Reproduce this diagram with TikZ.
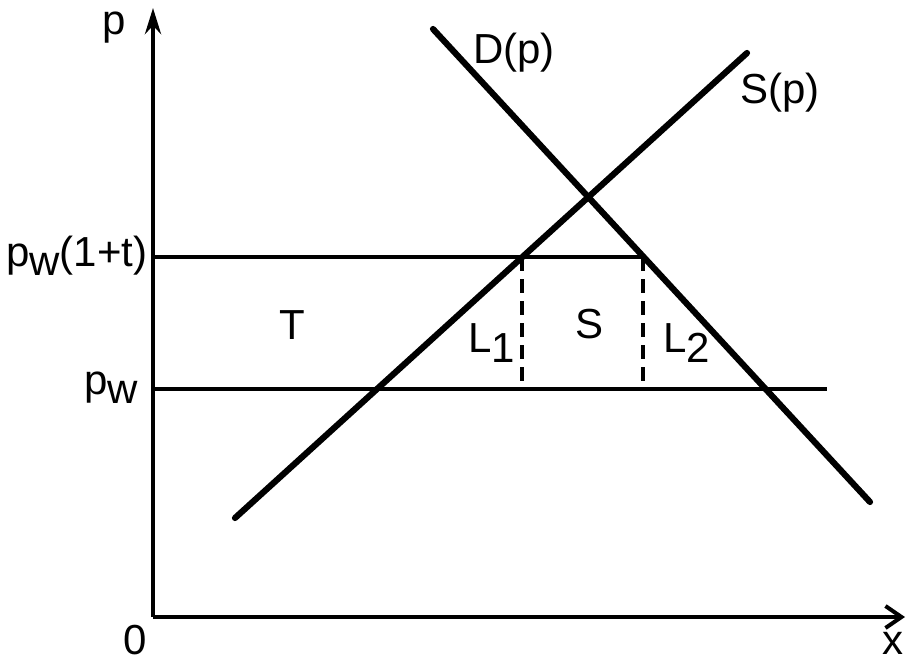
\documentclass[tikz,border=0pt]{standalone}
\usepackage{fontspec}
\setmainfont{Liberation Sans}
\usetikzlibrary{arrows.meta}
\begin{document}
\begin{tikzpicture}[x=1pt,y=-1pt,
  axis/.style={line width=4.6pt},
  curve/.style={line width=6.2pt,line cap=round},
  level/.style={line width=3.8pt},
  guide/.style={line width=3.6pt,dash pattern=on 14pt off 8pt},
  lab/.style={inner sep=0pt,font=\fontsize{42}{42}\selectfont}]
\useasboundingbox (0,0) rectangle (908,664);
% reference points
\coordinate (O) at (153,617);
\coordinate (ytop) at (153,8);
\coordinate (xend) at (905,617);
\coordinate (s0) at (235,518);
\coordinate (s1) at (747,53);
\coordinate (d0) at (433,29);
\coordinate (d1) at (870,502);
\coordinate (h0) at (153,257);
\coordinate (h1) at (643,257);
\coordinate (w0) at (153,389);
\coordinate (w1) at (827,389);
\coordinate (a) at (522,257);
\coordinate (c) at (522,389);
\coordinate (b) at (643,257);
\coordinate (e) at (643,389);
% axes
\draw[axis,-{Stealth[length=26pt,width=16pt]}] (O) -- (ytop);
\draw[axis,-{Straight Barb[length=16pt,width=22pt,line width=4pt]}] (O) -- (xend);
% price levels
\draw[level] (h0) -- (h1);
\draw[level] (w0) -- (w1);
% dashed verticals
\draw[guide] (a) -- (c);
\draw[guide] (b) -- (e);
% curves
\draw[curve] (s0) -- (s1);
\draw[curve] (d0) -- (d1);
% labels
\node[lab,anchor=base] (lp) at (114,34) {p};
\node[lab,anchor=base] (l0) at (135,654) {0};
\node[lab,anchor=base] (lx) at (893,654) {x};
\node[lab,anchor=base west] (lpt) at (6,266) {p\raisebox{-9pt}{w}(1+t)};
\node[lab,anchor=base west] (lpw) at (84,394) {p\raisebox{-9pt}{w}};
\node[lab,anchor=base] (lT) at (292,339) {T};
\node[lab,anchor=base west] (lL1) at (468,352) {L\raisebox{-10pt}{1}};
\node[lab,anchor=base] (lS) at (590,338) {S};
\node[lab,anchor=base west] (lL2) at (663,352) {L\raisebox{-10pt}{2}};
\node[lab,anchor=base west] (lD) at (473,63) {D(p)};
\node[lab,anchor=base west] (lSp) at (740,103) {S(p)};
\end{tikzpicture}
\end{document}
